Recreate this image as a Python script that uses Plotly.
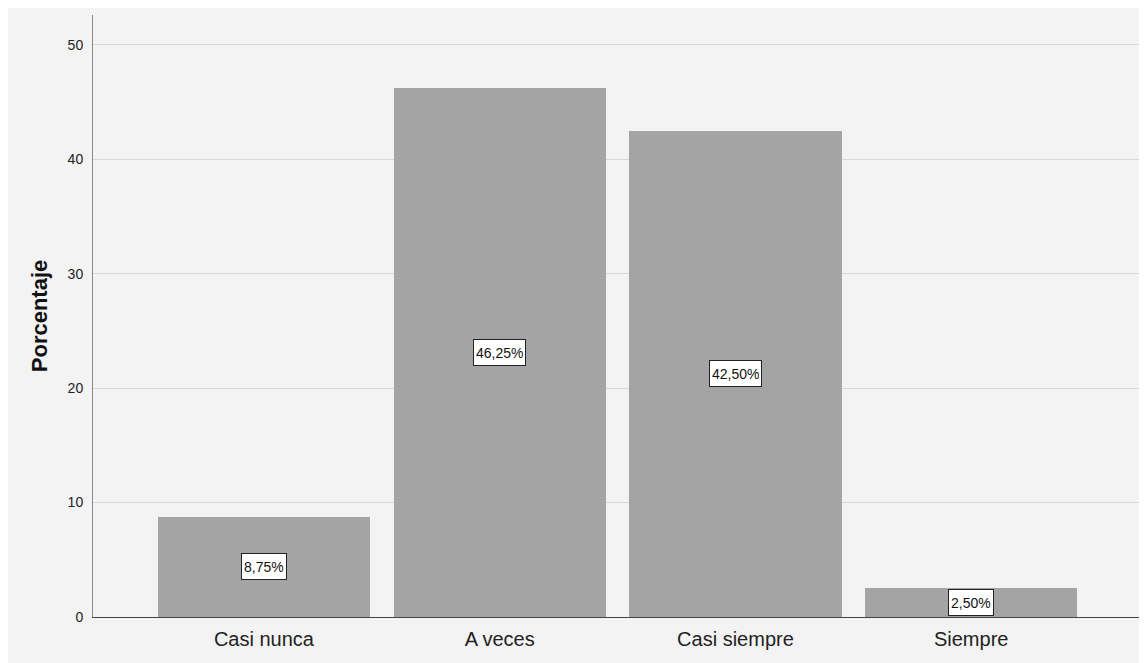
import plotly.graph_objects as go

categories = ["Casi nunca", "A veces", "Casi siempre", "Siempre"]
values = [8.75, 46.25, 42.50, 2.50]
value_labels = ["8,75%", "46,25%", "42,50%", "2,50%"]
y_ticks = [0, 10, 20, 30, 40, 50]

# page has an 8px body margin, so the figure is drawn at (8, 8)
W, H = 1139, 655
L, R, T, B = 85, 7, 7, 46

fig = go.Figure()
fig.add_trace(go.Bar(
    x=list(range(len(categories))), y=values,
    marker=dict(color="#a4a4a4", line=dict(width=0)),
    width=0.9, hoverinfo="skip",
))

for i, (v, lab) in enumerate(zip(values, value_labels)):
    fig.add_annotation(
        x=i, y=v / 2, text=lab, showarrow=False,
        font=dict(family="Liberation Sans, Arial, sans-serif", size=14, color="#111"),
        bgcolor="white", bordercolor="#222", borderwidth=1, borderpad=2,
        height=21,
        xref="x", yref="y",
    )

fig.update_layout(
    width=W, height=H,
    margin=dict(l=L, r=R, t=T, b=B),
    paper_bgcolor="#f3f3f3", plot_bgcolor="#f3f3f3",
    showlegend=False,
    bargap=0,
    font=dict(family="Liberation Sans, Arial, sans-serif", color="#222"),
    xaxis=dict(
        range=[-0.725, 3.716],
        tickmode="array", tickvals=list(range(len(categories))), ticktext=categories,
        tickfont=dict(size=20, color="#222"),
        showgrid=False, zeroline=False,
        showline=True, linecolor="#444", linewidth=1,
        ticks="", ticklen=0, ticklabelstandoff=4,
    ),
    yaxis=dict(
        range=[0, 52.6],
        tickmode="array", tickvals=y_ticks,
        tickfont=dict(size=14, color="#222"),
        showgrid=True, gridcolor="#d8d8d8", gridwidth=1,
        zeroline=False,
        showline=True, linecolor="#8a8a8a", linewidth=1,
        ticks="", ticklabelstandoff=6,
        title=dict(text="<b>Porcentaje</b>", font=dict(size=22, color="#111"), standoff=13),
    ),
)

fig.write_html("out.html")
